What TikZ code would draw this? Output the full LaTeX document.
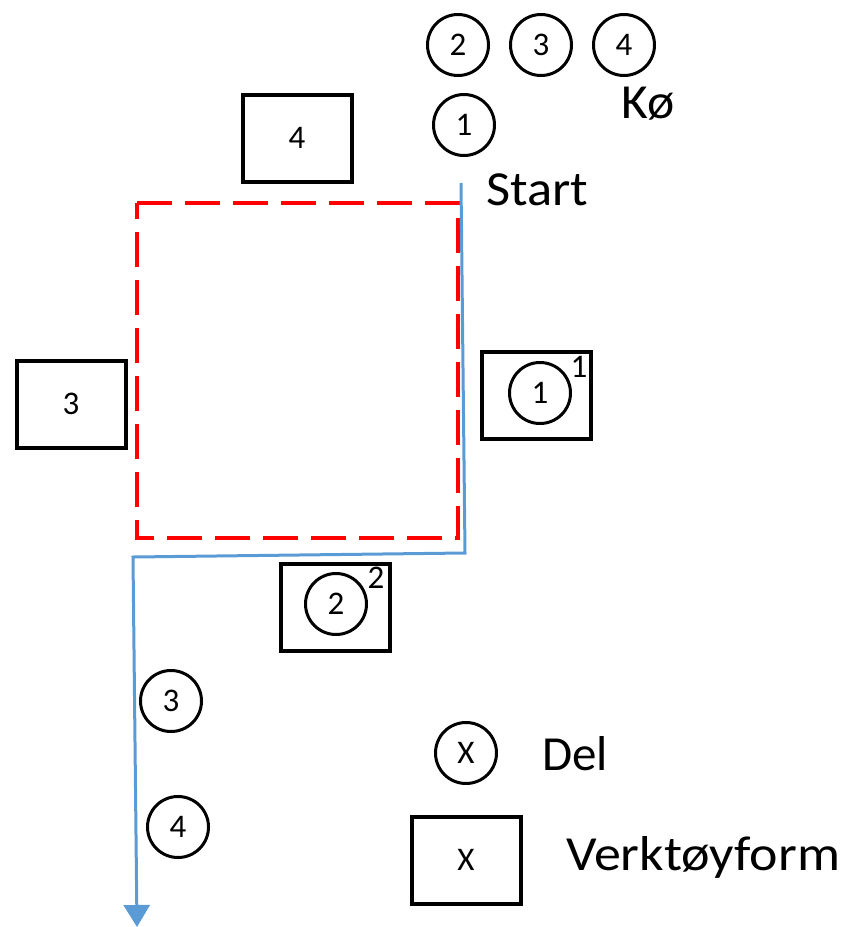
\documentclass[tikz,border=0pt]{standalone}
\usepackage{fontspec}
\setmainfont{Carlito}
\usepackage{xcolor}
\definecolor{flowblue}{HTML}{5B9BD5}
\definecolor{zonered}{HTML}{FF0000}
\usepackage{tikz}
\usetikzlibrary{arrows.meta,positioning,calc}
\newcommand{\widen}[2]{\scalebox{#1}[1]{#2}}

\begin{document}
\begin{tikzpicture}[x=1pt,y=-1pt,
  del/.style={draw,circle,line width=3pt,minimum size=61pt,inner sep=0pt,font=\fontsize{33}{36}\selectfont},
  form/.style={draw,rectangle,line width=4pt,minimum width=109pt,minimum height=87pt,inner sep=0pt,font=\fontsize{33}{36}\selectfont},
  sup/.style={inner sep=0pt,font=\fontsize{33}{36}\selectfont},
  big/.style={inner sep=0pt,anchor=base west,font=\fontsize{49}{55}\selectfont},
  flow/.style={draw=flowblue,line width=3pt,-{Triangle[length=22pt,width=26pt]}}]
\useasboundingbox (0,0) rectangle (842,927);
% queue
\node[del] (q2) at (458,45) {2};
\node[del] (q3) at (541,45) {3};
\node[del] (q4) at (624,45) {4};
\node[del] (q1) at (464,125) {1};
\node[big] (koe) at (621,118) {\widen{1.05}{Kø}};
% work zone
\draw[zonered,line width=4pt,dash pattern=on 35pt off 13pt]
  (137,203) -- (458,203) -- (458,538) -- (137,538) -- cycle;
% tool forms
\node[form] (f4) at (297,138) {4};
\node[form] (f3) at (71,404) {3};
\node[form] (f1) at (536,395) {};
\node[del] (d1) at (540,393) {1};
\node[sup] (s1) at (579,367) {1};
\node[form] (f2) at (335,607) {};
\node[del] (d2) at (336,604) {2};
\node[sup] (s2) at (376,578) {2};
% route
\coordinate (start) at (461,183);
\coordinate (turna) at (465,553);
\coordinate (turnb) at (133,557);
\coordinate (finish) at (137,927);
\node[big] (st) at (486,205) {\widen{1.07}{Start}};
\draw[flow] (start) -- (turna) -- (turnb) -- (finish);
% done
\node[del] (q3b) at (171,701) {3};
\node[del] (q4b) at (178,827) {4};
% legend
\node[del] (ldel) at (466,753) {X};
\node[big] (tdel) at (542,770) {Del};
\node[form] (lform) at (466,860) {X};
\node[big] (tform) at (566,870) {\widen{1.1}{Verktøyform}};
\end{tikzpicture}
\end{document}
